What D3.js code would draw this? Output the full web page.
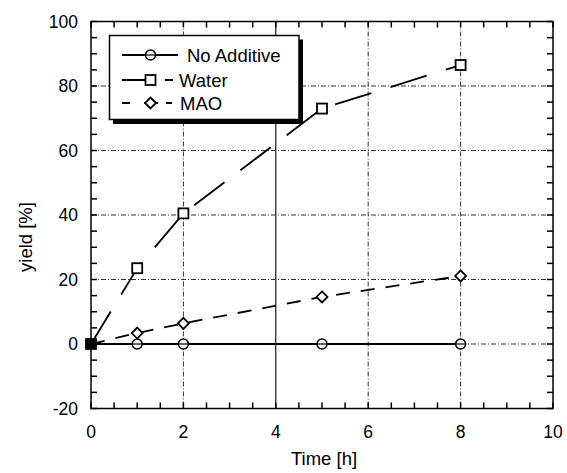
<!DOCTYPE html>
<html><head><meta charset="utf-8">
<script src="https://cdn.jsdelivr.net/npm/d3@7/dist/d3.min.js"></script>
<style>
html,body{margin:0;padding:0;background:#fff;}
svg{display:block;font-family:"Liberation Sans",Arial,Helvetica,sans-serif;}
</style></head>
<body>
<svg id="chart" width="567" height="473"></svg>
<script>
// ---- data ----
const times = [0, 1, 2, 5, 8];
const noAdditive = [0, 0, 0, 0, 0];
const water = [0, 23.5, 40.5, 73, 86.5];
const mao = [0, 3.4, 6.4, 14.6, 21.1];
const seriesNames = ["No Additive", "Water", "MAO"];
const xTicks = [0, 2, 4, 6, 8, 10];
const yTicks = [-20, 0, 20, 40, 60, 80, 100];
const xTitle = "Time [h]";
const yTitle = "yield [%]";

const svg = d3.select("#chart");
const L = 91, R = 553, T = 21.5, B = 408.5;
const x = d3.scaleLinear().domain([0, 10]).range([L, R]);
const y = d3.scaleLinear().domain([-20, 100]).range([B, T]);

// grid
const grid = svg.append("g");
[2, 6, 8].forEach(v => grid.append("line")
  .attr("x1", x(v)).attr("x2", x(v)).attr("y1", T).attr("y2", B)
  .attr("stroke", "#333").attr("stroke-width", 1).attr("stroke-dasharray", "5,2,1,2"));
grid.append("line").attr("x1", x(4)).attr("x2", x(4)).attr("y1", T).attr("y2", B)
  .attr("stroke", "#000").attr("stroke-width", 1.1);
[0, 20, 40, 60, 80].forEach(v => grid.append("line")
  .attr("y1", y(v)).attr("y2", y(v)).attr("x1", L).attr("x2", R)
  .attr("stroke", "#333").attr("stroke-width", 1).attr("stroke-dasharray", "5,2,1,2"));

// ticks (inward, all sides)
const tk = 6;
const ticks = svg.append("g").attr("stroke", "#000").attr("stroke-width", 1.5);
d3.range(0, 10.01, 0.5).forEach(v => {
  ticks.append("line").attr("x1", x(v)).attr("x2", x(v)).attr("y1", B).attr("y2", B - tk);
  ticks.append("line").attr("x1", x(v)).attr("x2", x(v)).attr("y1", T).attr("y2", T + tk);
});
d3.range(-20, 100.01, 5).forEach(v => {
  ticks.append("line").attr("y1", y(v)).attr("y2", y(v)).attr("x1", L).attr("x2", L + tk);
  ticks.append("line").attr("y1", y(v)).attr("y2", y(v)).attr("x1", R).attr("x2", R - tk);
});

// frame
svg.append("rect").attr("x", L).attr("y", T).attr("width", R - L).attr("height", B - T)
  .attr("fill", "none").attr("stroke", "#000").attr("stroke-width", 1.5);

// tick labels
svg.append("g").selectAll("text").data(xTicks).join("text")
  .attr("x", d => x(d)).attr("y", 438).attr("text-anchor", "middle")
  .attr("font-size", 17.5).text(d => d);
svg.append("g").selectAll("text").data(yTicks).join("text")
  .attr("x", 78).attr("y", d => y(d) + 6.3).attr("text-anchor", "end")
  .attr("font-size", 17.5).text(d => d);

// titles
svg.append("text").attr("x", (L + R) / 2 + 2).attr("y", 465).attr("text-anchor", "middle")
  .attr("font-size", 18.5).text(xTitle);
svg.append("text").attr("transform", "translate(32,237) rotate(-90)")
  .attr("text-anchor", "middle").attr("font-size", 18.5).text(yTitle);

// series
const line = d3.line().x(d => x(d[0])).y(d => y(d[1]));
const zip = vals => times.map((t, i) => [t, vals[i]]);
const styles = [
  {vals: noAdditive, dash: null, marker: "circle"},
  {vals: water, dash: "38,20", marker: "square"},
  {vals: mao, dash: "14,11", marker: "diamond"}
];
const plot = svg.append("g");
styles.forEach(s => {
  plot.append("path").datum(zip(s.vals)).attr("d", line)
    .attr("fill", "none").attr("stroke", "#000").attr("stroke-width", 1.8)
    .attr("stroke-dasharray", s.dash);
});
function marker(g, type, cx, cy, fill) {
  if (type === "circle") {
    g.append("circle").attr("cx", cx).attr("cy", cy).attr("r", 5)
      .attr("fill", fill || "#fff").attr("stroke", "#000").attr("stroke-width", 1.5);
    g.append("line").attr("x1", cx - 5).attr("x2", cx + 5).attr("y1", cy).attr("y2", cy)
      .attr("stroke", "#000").attr("stroke-width", 1.2);
  } else if (type === "square") {
    g.append("rect").attr("x", cx - 5).attr("y", cy - 5).attr("width", 10).attr("height", 10)
      .attr("fill", fill || "#fff").attr("stroke", "#000").attr("stroke-width", 1.8);
  } else {
    g.append("path").attr("d", `M${cx},${cy - 5.5}L${cx + 5.5},${cy}L${cx},${cy + 5.5}L${cx - 5.5},${cy}Z`)
      .attr("fill", fill || "#fff").attr("stroke", "#000").attr("stroke-width", 1.8);
  }
}
styles.forEach(s => {
  zip(s.vals).forEach((d, i) => {
    if (i === 0) return;
    marker(plot, s.marker, x(d[0]), y(d[1]));
  });
});
// overlapping markers at origin appear as a solid block
marker(plot, "square", x(times[0]), y(water[0]), "#000");

// legend
const lg = svg.append("g");
lg.append("rect").attr("x", 113).attr("y", 39.5).attr("width", 190).attr("height", 84.5).attr("fill", "#000");
lg.append("rect").attr("x", 109.5).attr("y", 35.5).attr("width", 189.5).attr("height", 84)
  .attr("fill", "#fff").attr("stroke", "#000").attr("stroke-width", 1.5);
const rows = [55, 80, 103];
const legDash = [null, "28,15,8,40", "8,14,14,8,6,40"];
const textX = [187, 179, 180];
styles.forEach((s, i) => {
  lg.append("line").attr("x1", 122).attr("x2", 178).attr("y1", rows[i]).attr("y2", rows[i])
    .attr("stroke", "#000").attr("stroke-width", 1.8).attr("stroke-dasharray", legDash[i]);
  marker(lg, s.marker, 150.5, rows[i]);
  lg.append("text").attr("x", textX[i]).attr("y", rows[i] + 6.6).attr("font-size", 18.5)
    .text(seriesNames[i]);
});
</script>
</body></html>
